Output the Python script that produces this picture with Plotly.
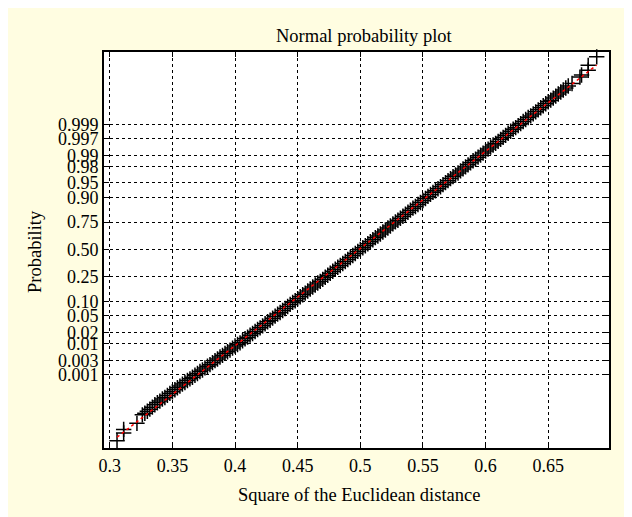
import numpy as np
import plotly.graph_objects as go
from statistics import NormalDist

# ---- data ----
# squared Euclidean distance and its normal score (position on the probability axis)
tail_distance = [0.3058, 0.3111, 0.3111, 0.3217,
                 0.6753, 0.6766, 0.6819, 0.6819, 0.6887]
tail_score = [-4.73, -4.54, -4.45, -4.30,
              4.26, 4.31, 4.43, 4.55, 4.76]

band_distance = [
    0.326, 0.328, 0.330, 0.332, 0.334, 0.336, 0.338, 0.340, 0.342, 0.344,
    0.346, 0.348, 0.350, 0.352, 0.354, 0.356, 0.358, 0.360, 0.362, 0.364,
    0.366, 0.368, 0.370, 0.372, 0.374, 0.376, 0.378, 0.380, 0.382, 0.384,
    0.386, 0.388, 0.390, 0.392, 0.394, 0.396, 0.398, 0.400, 0.402, 0.404,
    0.406, 0.408, 0.410, 0.412, 0.414, 0.416, 0.418, 0.420, 0.422, 0.424,
    0.426, 0.428, 0.430, 0.432, 0.434, 0.436, 0.438, 0.440, 0.442, 0.444,
    0.446, 0.448, 0.450, 0.452, 0.454, 0.456, 0.458, 0.460, 0.462, 0.464,
    0.466, 0.468, 0.470, 0.472, 0.474, 0.476, 0.478, 0.480, 0.482, 0.484,
    0.486, 0.488, 0.490, 0.492, 0.494, 0.496, 0.498, 0.500, 0.502, 0.504,
    0.506, 0.508, 0.510, 0.512, 0.514, 0.516, 0.518, 0.520, 0.522, 0.524,
    0.526, 0.528, 0.530, 0.532, 0.534, 0.536, 0.538, 0.540, 0.542, 0.544,
    0.546, 0.548, 0.550, 0.552, 0.554, 0.556, 0.558, 0.560, 0.562, 0.564,
    0.566, 0.568, 0.570, 0.572, 0.574, 0.576, 0.578, 0.580, 0.582, 0.584,
    0.586, 0.588, 0.590, 0.592, 0.594, 0.596, 0.598, 0.600, 0.602, 0.604,
    0.606, 0.608, 0.610, 0.612, 0.614, 0.616, 0.618, 0.620, 0.622, 0.624,
    0.626, 0.628, 0.630, 0.632, 0.634, 0.636, 0.638, 0.640, 0.642, 0.644,
    0.646, 0.648, 0.650, 0.652, 0.654, 0.656, 0.658, 0.660, 0.662, 0.664,
    0.666, 0.669]
band_score = [
    -4.09, -4.05, -4.00, -3.95, -3.90, -3.84, -3.79, -3.75, -3.70, -3.66,
    -3.61, -3.56, -3.52, -3.47, -3.42, -3.38, -3.33, -3.29, -3.24, -3.20,
    -3.16, -3.11, -3.07, -3.02, -2.98, -2.93, -2.89, -2.85, -2.80, -2.75,
    -2.71, -2.66, -2.62, -2.57, -2.53, -2.49, -2.44, -2.39, -2.35, -2.31,
    -2.26, -2.21, -2.17, -2.12, -2.08, -2.03, -1.98, -1.94, -1.89, -1.84,
    -1.79, -1.75, -1.70, -1.65, -1.60, -1.56, -1.51, -1.46, -1.41, -1.36,
    -1.31, -1.27, -1.22, -1.17, -1.12, -1.08, -1.03, -0.98, -0.93, -0.88,
    -0.83, -0.79, -0.74, -0.69, -0.64, -0.59, -0.54, -0.49, -0.44, -0.40,
    -0.35, -0.30, -0.25, -0.20, -0.15, -0.10, -0.05, 0.00, 0.04, 0.09,
    0.14, 0.19, 0.24, 0.29, 0.33, 0.38, 0.43, 0.48, 0.53, 0.58,
    0.63, 0.68, 0.72, 0.77, 0.82, 0.87, 0.92, 0.97, 1.02, 1.06,
    1.11, 1.16, 1.21, 1.26, 1.31, 1.36, 1.41, 1.45, 1.50, 1.55,
    1.60, 1.65, 1.70, 1.75, 1.80, 1.84, 1.89, 1.94, 1.99, 2.04,
    2.09, 2.14, 2.19, 2.23, 2.28, 2.33, 2.38, 2.43, 2.48, 2.53,
    2.58, 2.62, 2.67, 2.72, 2.77, 2.82, 2.87, 2.92, 2.97, 3.01,
    3.06, 3.11, 3.16, 3.21, 3.26, 3.30, 3.35, 3.40, 3.45, 3.50,
    3.55, 3.60, 3.65, 3.69, 3.74, 3.79, 3.84, 3.89, 3.94, 3.99,
    4.04, 4.10]

x_ticks = [0.3, 0.35, 0.4, 0.45, 0.5, 0.55, 0.6, 0.65]
x_tick_labels = ["0.3", "0.35", "0.4", "0.45", "0.5", "0.55", "0.6", "0.65"]
prob_ticks = [0.001, 0.003, 0.01, 0.02, 0.05, 0.10, 0.25, 0.50,
              0.75, 0.90, 0.95, 0.98, 0.99, 0.997, 0.999]
prob_labels = ["0.001", "0.003", "0.01", "0.02", "0.05", "0.10", "0.25", "0.50",
               "0.75", "0.90", "0.95", "0.98", "0.99", "0.997", "0.999"]

# ---- derived ----
nd = NormalDist()
y_tickvals = [nd.inv_cdf(p) for p in prob_ticks]

distance = band_distance + tail_distance
normal_score = band_score + tail_score
xd = np.array(distance)
zd = np.array(normal_score)
slope, intercept = np.polyfit(xd, zd, 1)
x_fit = np.array([xd.min(), xd.max()])
z_fit = slope * x_fit + intercept
q = nd.inv_cdf(0.75)
x_q = np.array([(-q - intercept) / slope, (q - intercept) / slope])
z_q = slope * x_q + intercept

FONT = "Liberation Serif, Times New Roman, serif"
BG = "#FFFDE1"

fig = go.Figure()
fig.add_trace(go.Scatter(x=x_q, y=z_q, mode="lines",
                         line=dict(color="#00A000", width=1.5), hoverinfo="skip"))
fig.add_trace(go.Scatter(x=distance, y=normal_score, mode="markers", cliponaxis=False,
                         marker=dict(symbol="cross-thin", size=11,
                                     line=dict(color="black", width=1.5))))
fig.add_trace(go.Scatter(x=x_fit, y=z_fit, mode="lines",
                         line=dict(color="red", width=1.5, dash="dot"), hoverinfo="skip"))

axis_common = dict(showline=True, linecolor="black", linewidth=2, mirror="ticks",
                   ticks="inside", ticklen=5, tickwidth=1.2, tickcolor="black",
                   showgrid=True, gridcolor="black", gridwidth=1, griddash="dot",
                   zeroline=False, tickfont=dict(family=FONT, size=18, color="black"))

fig.update_xaxes(range=[0.2954, 0.6985], tickmode="array", tickvals=x_ticks,
                 ticktext=x_tick_labels, ticklabelstandoff=0, **axis_common)
fig.update_yaxes(range=[-4.91, 4.88], tickmode="array", tickvals=y_tickvals,
                 ticktext=prob_labels, ticklabelstandoff=0, **axis_common)

# figure is drawn from (8, 8) on the page (body margin); coordinates below are figure pixels
W, H = 632, 517
L, R, T, B = 96, 601, 44, 440
pw, ph = R - L, B - T

def px(x):
    return (x - L) / pw

def py(y):
    return (B - y) / ph

TFONT = dict(family=FONT, size=18.5, color="black")
fig.update_layout(
    width=W, height=H, autosize=False,
    margin=dict(l=L, r=W - R, t=T, b=H - B, pad=0),
    paper_bgcolor=BG, plot_bgcolor="white", showlegend=False,
    font=dict(family=FONT, size=18, color="black"),
    annotations=[
        dict(text="Normal probability plot", xref="paper", yref="paper",
             x=px(356), y=py(28), xanchor="center", yanchor="middle",
             showarrow=False, font=TFONT),
        dict(text="Square of the Euclidean distance", xref="paper", yref="paper",
             x=px(351), y=py(487), xanchor="center", yanchor="middle",
             showarrow=False, font=TFONT),
        dict(text="Probability", xref="paper", yref="paper", textangle=-90,
             x=px(27), y=py(244), xanchor="center", yanchor="middle",
             showarrow=False, font=TFONT),
    ],
)

fig.write_html("out.html")
